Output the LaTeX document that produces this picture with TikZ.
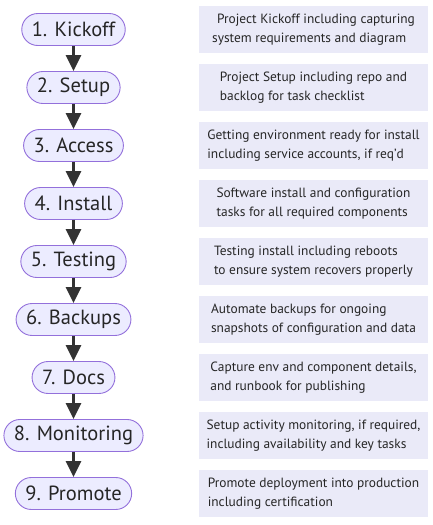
\documentclass[tikz,border=0pt]{standalone}
\usepackage{fontspec}
\setmainfont{PT Sans}
\usetikzlibrary{arrows.meta,positioning}
\definecolor{nodefill}{HTML}{ECECFF}
\definecolor{nodeedge}{HTML}{9370DB}
\definecolor{boxfill}{HTML}{EAEAF8}
\definecolor{arrowcol}{HTML}{333333}
\tikzset{
  stage/.style={draw=nodeedge, fill=nodefill, line width=0.9pt, rounded corners=16pt,
    minimum height=32pt, inner xsep=10pt, inner ysep=0pt, font=\fontsize{20.5}{22}\selectfont, text=black!85},
  note/.style={fill=boxfill, minimum width=229pt, minimum height=47pt, inner sep=0pt,
    align=left, font=\fontsize{13.4}{19}\selectfont, text=black!85},
  flow/.style={draw=arrowcol, line width=3pt, -{Triangle[length=16pt,width=15pt]}, shorten >=0pt}
}
\begin{document}
\begin{tikzpicture}[x=1pt,y=-1pt]
\useasboundingbox (0,0) rectangle (433,525);
\foreach \i/\t in {1/{1. Kickoff},2/{2. Setup},3/{3. Access},4/{4. Install},5/{5. Testing},6/{6. Backups},7/{7. Docs},8/{8. Monitoring},9/{9. Promote}}{
  \node[stage] (s\i) at (73.5,{29.5+58*(\i-1)}) {\t};
}
\node[note] (n1) at (313.5,29.5) {\hspace*{5pt}Project Kickoff including capturing\\system requirements and diagram};
\node[note] (n2) at (313.5,87.5) {Project Setup including repo and\\backlog for task checklist};
\node[note] (n3) at (313.5,145.5) {Getting environment ready for install\\including service accounts, if req'd};
\node[note] (n4) at (313.5,203.5) {Software install and configuration\\tasks for all required components};
\node[note] (n5) at (313.5,261.5) {Testing install including reboots\\to ensure system recovers properly};
\node[note] (n6) at (313.5,319.5) {Automate backups for ongoing\\snapshots of configuration and data};
\node[note] (n7) at (313.5,377.5) {Capture env and component details,\\and runbook for publishing};
\node[note] (n8) at (313.5,435.5) {Setup activity monitoring, if required,\\including availability and key tasks};
\node[note] (n9) at (313.5,493.5) {Promote deployment into production\\including certification};
\foreach \a/\b in {1/2,2/3,3/4,4/5,5/6,6/7,7/8,8/9}{
  \draw[flow] (s\a.south) -- (s\b.north);
}
\end{tikzpicture}
\end{document}
